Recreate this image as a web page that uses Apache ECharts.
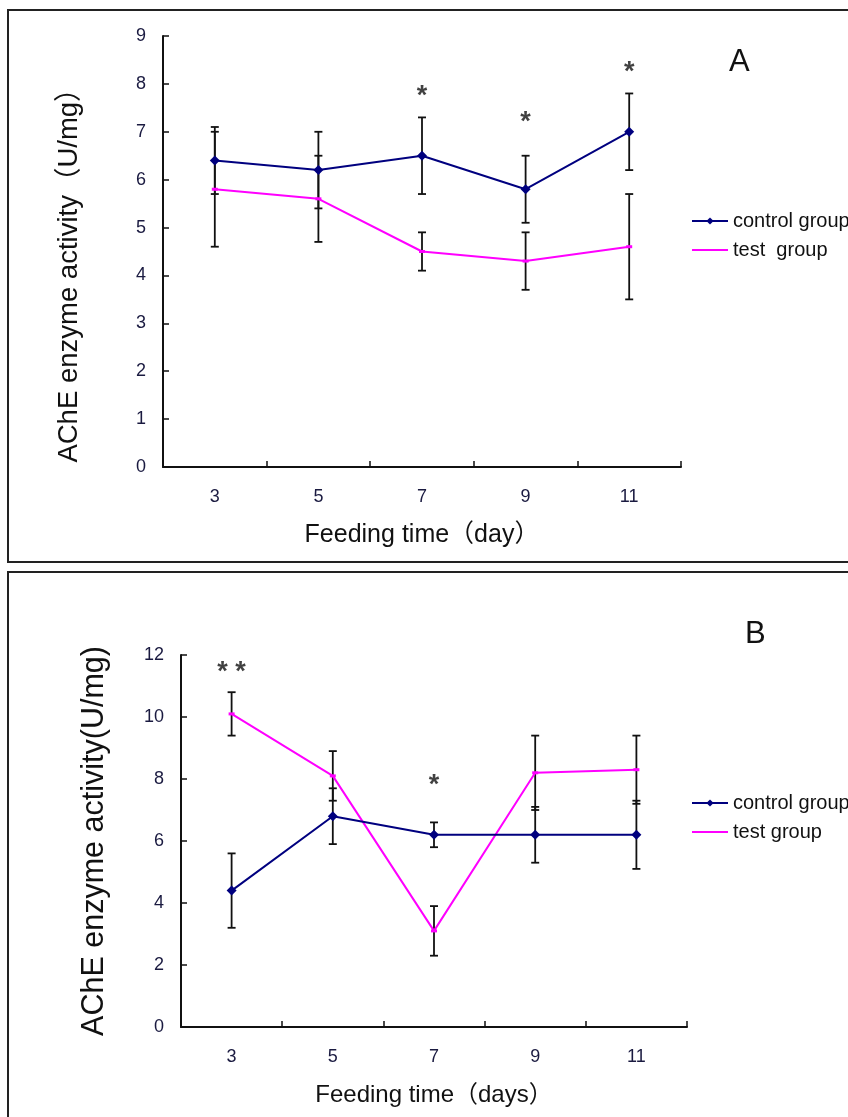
<!DOCTYPE html>
<html>
<head>
<meta charset="utf-8">
<script src="https://cdn.jsdelivr.net/npm/echarts@6/dist/echarts.min.js"></script>
<style>
  html, body { margin: 0; padding: 0; background: #fff; }
  #main { width: 848px; height: 1117px; }
</style>
</head>
<body>
<div id="main"></div>
<script>
// feeding days (category axis)
var days = ['3', '5', '7', '9', '11'];

// panel A
var aControl = [6.4, 6.2, 6.5, 5.8, 7.0];
var aControlErr = [0.7, 0.8, 0.8, 0.7, 0.8];
var aTest = [5.8, 5.6, 4.5, 4.3, 4.6];
var aTestErr = [1.2, 0.9, 0.4, 0.6, 1.1];
var aStars = [['7', 7.9, '*'], ['9', 7.37, '*'], ['11', 8.4, '*']];

// panel B
var bControl = [4.4, 6.8, 6.2, 6.2, 6.2];
var bControlErr = [1.2, 0.9, 0.4, 0.9, 1.1];
var bTest = [10.1, 8.1, 3.1, 8.2, 8.3];
var bTestErr = [0.7, 0.8, 0.8, 1.2, 1.1];
var bStars = [['3', 11.7, '* *'], ['7', 8.06, '*']];

var FONT = '"Liberation Sans", Arial, "Noto Sans CJK SC", sans-serif';
var NAVY = '#00007f';
var PINK = '#ff00ff';

function errData(vals, errs) {
    return vals.map(function (v, i) { return [i, v - errs[i], v + errs[i]]; });
}

function renderErr(params, api) {
    var top = api.coord([api.value(0), api.value(2)]);
    var bot = api.coord([api.value(0), api.value(1)]);
    var w = 4;
    var st = { stroke: '#111', lineWidth: 1.8 };
    return {
        type: 'group',
        children: [
            { type: 'line', shape: { x1: top[0], y1: top[1], x2: bot[0], y2: bot[1] }, style: st },
            { type: 'line', shape: { x1: top[0] - w, y1: top[1], x2: top[0] + w, y2: top[1] }, style: st },
            { type: 'line', shape: { x1: bot[0] - w, y1: bot[1], x2: bot[0] + w, y2: bot[1] }, style: st }
        ]
    };
}

function xAxisFor(idx, title, size) {
    return {
        type: 'category', gridIndex: idx, data: days,
        boundaryGap: true,
        name: title, nameLocation: 'middle', nameGap: 56,
        nameTextStyle: { fontFamily: FONT, fontSize: size, color: '#111' },
        axisLine: { lineStyle: { color: '#111', width: 2 } },
        axisTick: { show: true, inside: true, length: 6, alignWithLabel: false, lineStyle: { color: '#111', width: 1.5 } },
        axisLabel: { fontFamily: FONT, fontSize: 18, color: '#1a1a40', margin: 21 },
        splitLine: { show: false }
    };
}

function yAxisFor(idx, max, step, title, gap, size, pad) {
    return {
        type: 'value', gridIndex: idx, min: 0, max: max, interval: step,
        name: title, nameLocation: 'middle', nameGap: gap,
        nameTextStyle: { fontFamily: FONT, fontSize: size, color: '#111', padding: pad },
        axisLine: { show: true, lineStyle: { color: '#111', width: 2 } },
        axisTick: { show: true, inside: true, length: 6, lineStyle: { color: '#111', width: 1.5 } },
        axisLabel: { fontFamily: FONT, fontSize: 18, color: '#1a1a40', margin: 17 },
        splitLine: { show: false }
    };
}

function starSeries(idx, pts) {
    return {
        type: 'scatter', xAxisIndex: idx, yAxisIndex: idx,
        data: pts, symbolSize: 1, itemStyle: { color: 'transparent' },
        silent: true, z: 5,
        label: {
            show: true, position: 'inside', offset: [0, 8],
            formatter: function (p) { return p.value[2]; },
            fontFamily: FONT, fontSize: 27, fontWeight: 'bold', color: '#111'
        }
    };
}

function legendFor(top, names) {
    return {
        orient: 'vertical', left: 686, top: top, itemGap: 9,
        itemWidth: 36, itemHeight: 9, selectedMode: false,
        data: names.map(function (n, i) {
            return i === 1 ? { name: n, icon: 'path://M0,0L36,0L36,2L0,2Z' } : { name: n };
        }),
        textStyle: { fontFamily: FONT, fontSize: 20, color: '#111' }
    };
}

var chart = echarts.init(document.getElementById('main'));

var option = {
    animation: false,
    backgroundColor: '#fff',
    graphic: [
        { type: 'rect', shape: { x: 8, y: 10, width: 860, height: 552 }, style: { fill: 'none', stroke: '#222', lineWidth: 2 } },
        { type: 'rect', shape: { x: 8, y: 572, width: 860, height: 560 }, style: { fill: 'none', stroke: '#222', lineWidth: 2 } },
        { type: 'text', left: 729, top: 47, style: { text: 'A', font: '31px ' + FONT, fill: '#111' } },
        { type: 'text', left: 745, top: 619, style: { text: 'B', font: '31px ' + FONT, fill: '#111' } }
    ],
    grid: [
        { left: 163, top: 36, width: 518, height: 431 },
        { left: 181, top: 655, width: 506, height: 372 }
    ],
    legend: [
        legendFor(206, ['control group', 'test  group']),
        legendFor(788, ['control group', 'test group'])
    ],
    xAxis: [
        xAxisFor(0, 'Feeding time（day）', 25),
        xAxisFor(1, 'Feeding time（days）', 24)
    ],
    yAxis: [
        yAxisFor(0, 9, 1, 'AChE enzyme activity（U/mg）', 80, 27.5, [0, 34, 0, 0]),
        yAxisFor(1, 12, 2, 'AChE enzyme activity(U/mg)', 71, 30.5, 0)
    ],
    series: [
        { type: 'custom', xAxisIndex: 0, yAxisIndex: 0, renderItem: renderErr, data: errData(aControl, aControlErr), z: 1, silent: true, encode: { x: 0, y: [1, 2] } },
        { type: 'custom', xAxisIndex: 0, yAxisIndex: 0, renderItem: renderErr, data: errData(aTest, aTestErr), z: 1, silent: true, encode: { x: 0, y: [1, 2] } },
        { type: 'custom', xAxisIndex: 1, yAxisIndex: 1, renderItem: renderErr, data: errData(bControl, bControlErr), z: 1, silent: true, encode: { x: 0, y: [1, 2] } },
        { type: 'custom', xAxisIndex: 1, yAxisIndex: 1, renderItem: renderErr, data: errData(bTest, bTestErr), z: 1, silent: true, encode: { x: 0, y: [1, 2] } },
        {
            name: 'control group', type: 'line', xAxisIndex: 0, yAxisIndex: 0, data: aControl, z: 3,
            symbol: 'diamond', symbolSize: 10, color: NAVY,
            lineStyle: { color: NAVY, width: 2 }, itemStyle: { color: NAVY }
        },
        {
            name: 'test  group', type: 'line', xAxisIndex: 0, yAxisIndex: 0, data: aTest, z: 2,
            symbol: 'rect', symbolSize: [6, 3], color: PINK,
            lineStyle: { color: PINK, width: 2 }, itemStyle: { color: PINK }
        },
        {
            name: 'control group', type: 'line', xAxisIndex: 1, yAxisIndex: 1, data: bControl, z: 3,
            symbol: 'diamond', symbolSize: 10, color: NAVY,
            lineStyle: { color: NAVY, width: 2 }, itemStyle: { color: NAVY }
        },
        {
            name: 'test group', type: 'line', xAxisIndex: 1, yAxisIndex: 1, data: bTest, z: 2,
            symbol: 'rect', symbolSize: [6, 3], color: PINK,
            lineStyle: { color: PINK, width: 2 }, itemStyle: { color: PINK }
        },
        starSeries(0, aStars),
        starSeries(1, bStars)
    ]
};

chart.setOption(option);
</script>
</body>
</html>
